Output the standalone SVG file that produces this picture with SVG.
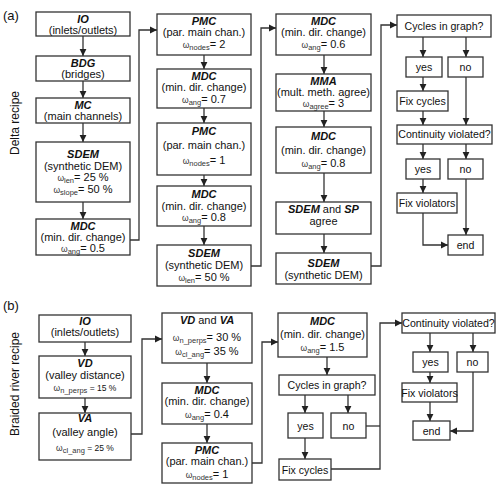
<svg xmlns="http://www.w3.org/2000/svg" width="500" height="494" viewBox="0 0 500 494">
<defs>
<marker id="ah" markerWidth="8" markerHeight="8" refX="7" refY="4" orient="auto" markerUnits="userSpaceOnUse"><path d="M0,0.6 L7,4 L0,7.4 z" fill="#222"/></marker>
<style>
.b{fill:#fff;stroke:#333;stroke-width:1.3}
text{font-family:"Liberation Sans",Arial,Helvetica,sans-serif;fill:#111;text-anchor:middle}
.t{font-size:11px}
.d{font-size:10.6px}
.h{font-size:11px;font-weight:bold;font-style:italic}
.om{font-size:8.5px;fill:#333}
.sb{font-size:7.5px;fill:#333}
.lab{font-size:13px;text-anchor:start}
.rl{font-size:12px}
.c{fill:none;stroke:#333;stroke-width:1.3;marker-end:url(#ah)}
.n{fill:none;stroke:#333;stroke-width:1.3}
</style>
</defs>
<text class="lab" x="3" y="20">(a)</text>
<text class="lab" x="3" y="310">(b)</text>
<text class="rl" transform="translate(18.5,123) rotate(-90)">Delta recipe</text>
<text class="rl" transform="translate(18.5,384) rotate(-90)">Braided river recipe</text>

<g id="connectors">
<path class="c" d="M83,36V56"/>
<path class="c" d="M83,81V98"/>
<path class="c" d="M83,123V142"/>
<path class="c" d="M83,202V219"/>
<path class="c" d="M130,240H139V30H157"/>
<path class="c" d="M204,55V69"/>
<path class="c" d="M204,108V123"/>
<path class="c" d="M204,175V186"/>
<path class="c" d="M204,226V245"/>
<path class="c" d="M251,266H261V28H276"/>
<path class="c" d="M324,55V74"/>
<path class="c" d="M324,111V127"/>
<path class="c" d="M324,173V202"/>
<path class="c" d="M324,234V253"/>
<path class="c" d="M371,266H381V25H397"/>
<path class="c" d="M423,37V57"/>
<path class="c" d="M466,37V57"/>
<path class="c" d="M423,77V91"/>
<path class="c" d="M423,111V125"/>
<path class="c" d="M466,77V125"/>
<path class="c" d="M423,144V159"/>
<path class="c" d="M466,144V159"/>
<path class="c" d="M423,179V193"/>
<path class="c" d="M423,213V245H448"/>
<path class="c" d="M466,179V235"/>

<path class="c" d="M85,342V356"/>
<path class="c" d="M85,398V413"/>
<path class="c" d="M131,434H142V339H162"/>
<path class="c" d="M207,363V383"/>
<path class="c" d="M207,424V443"/>
<path class="c" d="M252,463H262V342H278"/>
<path class="c" d="M327,357V375"/>
<path class="c" d="M305,395V413"/>
<path class="c" d="M348,395V413"/>
<path class="c" d="M305,438V459"/>
<path class="n" d="M366,426H380"/>
<path class="c" d="M331,469H380V323H402"/>
<path class="c" d="M430,333V352"/>
<path class="c" d="M473,333V352"/>
<path class="c" d="M430,372V383"/>
<path class="c" d="M430,402V421"/>
<path class="c" d="M473,372V431H450"/>
</g>

<g id="a-io"><rect class="b" x="36" y="12" width="94" height="24"/><text class="h" x="83" y="22.5">IO</text><text class="t" x="83" y="33.5">(inlets/outlets)</text></g>
<g id="a-bdg"><rect class="b" x="36" y="56" width="94" height="25"/><text class="h" x="83" y="67">BDG</text><text class="t" x="83" y="78">(bridges)</text></g>
<g id="a-mc"><rect class="b" x="36" y="98" width="94" height="25"/><text class="h" x="83" y="109">MC</text><text class="t" x="83" y="120">(main channels)</text></g>
<g id="a-sdem1"><rect class="b" x="36" y="142" width="94" height="60"/><text class="h" x="83" y="158">SDEM</text><text class="t" x="83" y="169.5">(synthetic DEM)</text><text class="t" x="83" y="181"><tspan class="om">ω</tspan><tspan class="sb" dy="2">len</tspan><tspan dy="-2">= 25 %</tspan></text><text class="t" x="83" y="193"><tspan class="om">ω</tspan><tspan class="sb" dy="2">slope</tspan><tspan dy="-2">=  50 %</tspan></text></g>
<g id="a-mdc1"><rect class="b" x="36" y="219" width="94" height="36"/><text class="h" x="83" y="229.5">MDC</text><text class="t" x="83" y="240.5">(min. dir. change)</text><text class="t" x="83" y="251.5"><tspan class="om">ω</tspan><tspan class="sb" dy="2">ang</tspan><tspan dy="-2">= 0.5</tspan></text></g>

<g id="a-pmc1"><rect class="b" x="157" y="14" width="94" height="41"/><text class="h" x="204" y="25">PMC</text><text class="t" x="204" y="36">(par. main chan.)</text><text class="t" x="204" y="47.5"><tspan class="om">ω</tspan><tspan class="sb" dy="2">nodes</tspan><tspan dy="-2">= 2</tspan></text></g>
<g id="a-mdc2"><rect class="b" x="157" y="69" width="94" height="39"/><text class="h" x="204" y="80">MDC</text><text class="t" x="204" y="91">(min. dir. change)</text><text class="t" x="204" y="102.5"><tspan class="om">ω</tspan><tspan class="sb" dy="2">ang</tspan><tspan dy="-2">= 0.7</tspan></text></g>
<g id="a-pmc2"><rect class="b" x="157" y="123" width="94" height="52"/><text class="h" x="204" y="135">PMC</text><text class="t" x="204" y="149">(par. main chan.)</text><text class="t" x="204" y="164"><tspan class="om">ω</tspan><tspan class="sb" dy="2">nodes</tspan><tspan dy="-2">= 1</tspan></text></g>
<g id="a-mdc3"><rect class="b" x="157" y="186" width="94" height="40"/><text class="h" x="204" y="198">MDC</text><text class="t" x="204" y="209.5">(min. dir. change)</text><text class="t" x="204" y="221"><tspan class="om">ω</tspan><tspan class="sb" dy="2">ang</tspan><tspan dy="-2">= 0.8</tspan></text></g>
<g id="a-sdem2"><rect class="b" x="157" y="245" width="94" height="41"/><text class="h" x="204" y="256.5">SDEM</text><text class="t" x="204" y="268.5">(synthetic DEM)</text><text class="t" x="204" y="280.5"><tspan class="om">ω</tspan><tspan class="sb" dy="2">len</tspan><tspan dy="-2">= 50 %</tspan></text></g>

<g id="a-mdc4"><rect class="b" x="276" y="14" width="95" height="41"/><text class="h" x="323.5" y="25">MDC</text><text class="t" x="323.5" y="36">(min. dir. change)</text><text class="t" x="323.5" y="47.5"><tspan class="om">ω</tspan><tspan class="sb" dy="2">ang</tspan><tspan dy="-2">= 0.6</tspan></text></g>
<g id="a-mma"><rect class="b" x="276" y="74" width="95" height="37"/><text class="h" x="323.5" y="85">MMA</text><text class="t" x="323.5" y="96">(mult. meth. agree)</text><text class="t" x="323.5" y="107"><tspan class="om">ω</tspan><tspan class="sb" dy="2">agree</tspan><tspan dy="-2">= 3</tspan></text></g>
<g id="a-mdc5"><rect class="b" x="276" y="127" width="95" height="46"/><text class="h" x="323.5" y="140">MDC</text><text class="t" x="323.5" y="154">(min. dir. change)</text><text class="t" x="323.5" y="167"><tspan class="om">ω</tspan><tspan class="sb" dy="2">ang</tspan><tspan dy="-2">= 0.8</tspan></text></g>
<g id="a-agree"><rect class="b" x="276" y="202" width="95" height="32"/><text class="t" x="323.5" y="213"><tspan class="h">SDEM</tspan> and <tspan class="h">SP</tspan></text><text class="t" x="323.5" y="225">agree</text></g>
<g id="a-sdem3"><rect class="b" x="276" y="253" width="95" height="31"/><text class="h" x="323.5" y="267">SDEM</text><text class="t" x="323.5" y="279">(synthetic DEM)</text></g>

<g id="a-cyc"><rect class="b" x="397" y="15" width="94" height="22"/><text class="d" x="444" y="29.5">Cycles in graph?</text></g>
<g id="a-yes1"><rect class="b" x="406" y="57" width="36" height="20"/><text class="d" x="424" y="70.5">yes</text></g>
<g id="a-no1"><rect class="b" x="448" y="57" width="35" height="20"/><text class="d" x="465.5" y="70.5">no</text></g>
<g id="a-fixc"><rect class="b" x="397" y="91" width="51" height="20"/><text class="d" x="422.5" y="104.5">Fix cycles</text></g>
<g id="a-cont"><rect class="b" x="397" y="125" width="95" height="19"/><text class="d" x="444.5" y="138">Continuity violated?</text></g>
<g id="a-yes2"><rect class="b" x="406" y="159" width="34" height="20"/><text class="d" x="423" y="172.5">yes</text></g>
<g id="a-no2"><rect class="b" x="448" y="159" width="35" height="20"/><text class="d" x="465.5" y="172.5">no</text></g>
<g id="a-fixv"><rect class="b" x="397" y="193" width="60" height="20"/><text class="d" x="427" y="206.5">Fix violators</text></g>
<g id="a-end"><rect class="b" x="448" y="235" width="35" height="20"/><text class="d" x="465.5" y="248.5">end</text></g>

<g id="b-io"><rect class="b" x="39" y="315" width="92" height="27"/><text class="h" x="85" y="324.5">IO</text><text class="t" x="85" y="336">(inlets/outlets)</text></g>
<g id="b-vd"><rect class="b" x="39" y="356" width="92" height="42"/><text class="h" x="85" y="366.5">VD</text><text class="t" x="85" y="378.5">(valley distance)</text><text class="t" x="85" y="391"><tspan class="om">ω</tspan><tspan class="sb" dy="2">n_perps</tspan><tspan dy="-2" font-size="8.5"> = 15 %</tspan></text></g>
<g id="b-va"><rect class="b" x="39" y="413" width="92" height="47"/><text class="h" x="85" y="422">VA</text><text class="t" x="85" y="436">(valley angle)</text><text class="t" x="85" y="451"><tspan class="om">ω</tspan><tspan class="sb" dy="2">cl_ang</tspan><tspan dy="-2" font-size="8.5"> = 25 %</tspan></text></g>

<g id="b-vdva"><rect class="b" x="162" y="313" width="90" height="50"/><text class="t" x="207" y="323.5"><tspan class="h">VD</tspan> and <tspan class="h">VA</tspan></text><text class="t" x="207" y="341"><tspan class="om">ω</tspan><tspan class="sb" dy="2" font-size="6">n_perps</tspan><tspan dy="-2">= 30 %</tspan></text><text class="t" x="207" y="355"><tspan class="om">ω</tspan><tspan class="sb" dy="2">cl_ang</tspan><tspan dy="-2">= 35 %</tspan></text></g>
<g id="b-mdc1"><rect class="b" x="162" y="383" width="90" height="41"/><text class="h" x="207" y="393.5">MDC</text><text class="t" x="207" y="405">(min. dir. change)</text><text class="t" x="207" y="417.5"><tspan class="om">ω</tspan><tspan class="sb" dy="2">ang</tspan><tspan dy="-2">= 0.4</tspan></text></g>
<g id="b-pmc"><rect class="b" x="162" y="443" width="90" height="40"/><text class="h" x="207" y="453.5">PMC</text><text class="t" x="207" y="465">(par. main chan.)</text><text class="t" x="207" y="477.5"><tspan class="om">ω</tspan><tspan class="sb" dy="2">nodes</tspan><tspan dy="-2">= 1</tspan></text></g>

<g id="b-mdc2"><rect class="b" x="278" y="313" width="89" height="44"/><text class="h" x="322.5" y="325">MDC</text><text class="t" x="322.5" y="338">(min. dir. change)</text><text class="t" x="322.5" y="351"><tspan class="om">ω</tspan><tspan class="sb" dy="2">ang</tspan><tspan dy="-2">= 1.5</tspan></text></g>
<g id="b-cyc"><rect class="b" x="279" y="375" width="96" height="20"/><text class="d" x="327" y="389">Cycles in graph?</text></g>
<g id="b-yes1"><rect class="b" x="288" y="413" width="35" height="25"/><text class="d" x="305.5" y="429.5">yes</text></g>
<g id="b-no1"><rect class="b" x="331" y="413" width="35" height="25"/><text class="d" x="348.5" y="429.5">no</text></g>
<g id="b-fixc"><rect class="b" x="279" y="459" width="52" height="21"/><text class="d" x="305" y="473.5">Fix cycles</text></g>

<g id="b-cont"><rect class="b" x="402" y="313" width="93" height="20"/><text class="d" x="448.5" y="327">Continuity violated?</text></g>
<g id="b-yes2"><rect class="b" x="413" y="352" width="35" height="20"/><text class="d" x="430.5" y="366">yes</text></g>
<g id="b-no2"><rect class="b" x="457" y="352" width="31" height="20"/><text class="d" x="472.5" y="366">no</text></g>
<g id="b-fixv"><rect class="b" x="402" y="383" width="55" height="19"/><text class="d" x="429.5" y="396.5">Fix violators</text></g>
<g id="b-end"><rect class="b" x="413" y="421" width="37" height="19"/><text class="d" x="431.5" y="434.5">end</text></g>
</svg>
